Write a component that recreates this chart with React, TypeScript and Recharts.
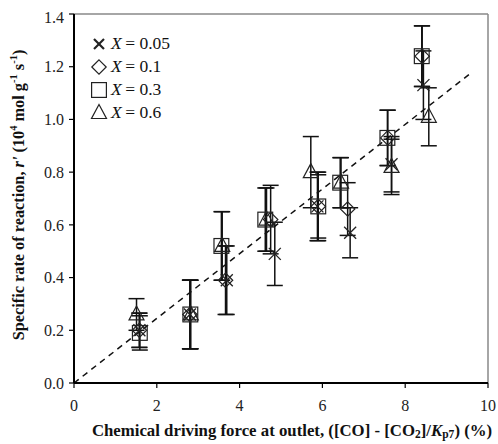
import React from 'react';
import { ScatterChart, Scatter, XAxis, YAxis, ErrorBar, ReferenceLine } from 'recharts';

// ---- data ----
const xTicks = [0, 2, 4, 6, 8, 10];
const yTicks = [0, 0.2, 0.4, 0.6, 0.8, 1.0, 1.2, 1.4];

const seriesNames = ['X = 0.05', 'X = 0.1', 'X = 0.3', 'X = 0.6'];

const xs005 = [1.58, 2.80, 3.69, 4.85, 5.88, 6.67, 7.67, 8.44];
const ys005 = [0.20, 0.26, 0.39, 0.49, 0.67, 0.57, 0.83, 1.13];
const err005 = [0.065, 0.13, 0.13, 0.12, 0.13, 0.095, 0.105, 0.13];

const xs01 = [1.58, 2.80, 3.66, 4.75, 5.90, 6.61, 7.58, 8.41];
const ys01 = [0.20, 0.26, 0.39, 0.62, 0.67, 0.66, 0.93, 1.24];
const err01 = [0.065, 0.13, 0.13, 0.13, 0.12, 0.10, 0.105, 0.115];

const xs03 = [1.59, 2.81, 3.56, 4.62, 5.90, 6.43, 7.57, 8.40];
const ys03 = [0.19, 0.26, 0.52, 0.62, 0.67, 0.76, 0.93, 1.24];
const err03 = [0.065, 0.13, 0.13, 0.12, 0.13, 0.095, 0.105, 0.115];

const xs06 = [1.51, 2.82, 3.58, 4.65, 5.72, 6.45, 7.67, 8.57];
const ys06 = [0.26, 0.26, 0.52, 0.62, 0.80, 0.76, 0.82, 1.01];
const err06 = [0.06, 0.13, 0.13, 0.12, 0.135, 0.095, 0.105, 0.11];

const trendX = [0, 9.58];
const trendY = [0, 1.175];

const mk = (xs: number[], ys: number[], es: number[]) =>
  xs.map((x, i) => ({ x, y: ys[i], e: es[i] }));

const d005 = mk(xs005, ys005, err005);
const d01 = mk(xs01, ys01, err01);
const d03 = mk(xs03, ys03, err03);
const d06 = mk(xs06, ys06, err06);

// ---- marker shapes ----
const MK = '#222';
const Cross = ({ cx, cy, sw = 1.3, r = 6 }: any) => (
  <g stroke={MK} strokeWidth={sw}>
    <line x1={cx - r} y1={cy - r} x2={cx + r} y2={cy + r} />
    <line x1={cx - r} y1={cy + r} x2={cx + r} y2={cy - r} />
  </g>
);
const Diamond = ({ cx, cy }: any) => {
  const r = 7.2;
  return (
    <polygon
      points={`${cx},${cy - r} ${cx + r},${cy} ${cx},${cy + r} ${cx - r},${cy}`}
      fill="none"
      stroke={MK}
      strokeWidth={1.2}
    />
  );
};
const Square = ({ cx, cy }: any) => {
  const r = 7.4;
  return <rect x={cx - r} y={cy - r} width={2 * r} height={2 * r} fill="none" stroke={MK} strokeWidth={1.2} />;
};
const Triangle = ({ cx, cy }: any) => (
  <polygon
    points={`${cx},${cy - 8.5} ${cx + 7.5},${cy + 5.5} ${cx - 7.5},${cy + 5.5}`}
    fill="none"
    stroke={MK}
    strokeWidth={1.2}
  />
);

const shapes = [Cross, Diamond, Square, Triangle];
const FONT = '"Liberation Serif", "Times New Roman", serif';

const ErrBar = (
  <ErrorBar dataKey="e" direction="y" width={8} stroke="#111" strokeWidth={1.5} />
);

const YTitle = () => (
  <text
    x={10}
    y={187}
    transform="rotate(-90 10 187)"
    textAnchor="middle"
    dominantBaseline="central"
    fontWeight="bold"
    fontSize={16.3}
    fontFamily={FONT}
    fill="#111"
  >
    Specific rate of reaction, <tspan fontStyle="italic">r'</tspan> (10
    <tspan dy={-5} fontSize={10.5}>4</tspan>
    <tspan dy={5}> mol g</tspan>
    <tspan dy={-5} fontSize={10.5}>-1</tspan>
    <tspan dy={5}> s</tspan>
    <tspan dy={-5} fontSize={10.5}>-1</tspan>
    <tspan dy={5}>)</tspan>
  </text>
);

const XTitle = () => (
  <text
    x={284}
    y={422}
    textAnchor="middle"
    dominantBaseline="central"
    fontWeight="bold"
    fontSize={16.8}
    fontFamily={FONT}
    fill="#111"
  >
    Chemical driving force at outlet, ([CO] - [CO
    <tspan dy={4} fontSize={11.5}>2</tspan>
    <tspan dy={-4}>]/</tspan>
    <tspan fontStyle="italic">K</tspan>
    <tspan dy={4} fontSize={11.5}>p7</tspan>
    <tspan dy={-4}>) (%)</tspan>
  </text>
);

export default function App() {
  return (
    <div style={{ position: 'relative', width: 498, height: 444, overflow: 'visible' }}>
      <style>{'html,body{margin:0;padding:0;overflow:hidden}'}</style>
      <div style={{ position: 'absolute', left: 8, top: 8 }}>
        <ScatterChart
          width={490}
          height={436}
          margin={{ top: 6, right: 10, bottom: 0, left: 0 }}
          style={{ fontFamily: FONT }}
        >
          <XAxis
            type="number"
            dataKey="x"
            domain={[0, 10]}
            ticks={xTicks}
            height={61}
            tickSize={5}
            tickMargin={12}
            axisLine={{ stroke: '#000', strokeWidth: 2 }}
            tickLine={{ stroke: '#000', strokeWidth: 1.2 }}
            tick={{ fill: '#222', fontSize: 16, fontFamily: FONT }}
            label={{ content: () => <XTitle /> }}
          />
          <YAxis
            type="number"
            dataKey="y"
            domain={[0, 1.4]}
            ticks={yTicks}
            width={66}
            tickSize={5}
            tickMargin={5}
            tickFormatter={(v: number) => v.toFixed(1)}
            axisLine={{ stroke: '#000', strokeWidth: 2 }}
            tickLine={{ stroke: '#000', strokeWidth: 1.2 }}
            tick={{ fill: '#222', fontSize: 16, fontFamily: FONT }}
            label={{ content: () => <YTitle /> }}
          />
          <ReferenceLine y={1.4} stroke="#888" strokeWidth={1.5} />
          <ReferenceLine x={10} stroke="#888" strokeWidth={1.5} />
          <ReferenceLine
            segment={[
              { x: trendX[0], y: trendY[0] },
              { x: trendX[1], y: trendY[1] },
            ]}
            stroke="#111"
            strokeWidth={1.5}
            strokeDasharray="6 5"
          />
          <Scatter data={d005} name={seriesNames[0]} isAnimationActive={false} shape={(p: any) => <Cross {...p} />}>
            {ErrBar}
          </Scatter>
          <Scatter data={d01} name={seriesNames[1]} isAnimationActive={false} shape={(p: any) => <Diamond {...p} />}>
            {ErrBar}
          </Scatter>
          <Scatter data={d03} name={seriesNames[2]} isAnimationActive={false} shape={(p: any) => <Square {...p} />}>
            {ErrBar}
          </Scatter>
          <Scatter data={d06} name={seriesNames[3]} isAnimationActive={false} shape={(p: any) => <Triangle {...p} />}>
            {ErrBar}
          </Scatter>
        </ScatterChart>
        <div style={{ position: 'absolute', left: 81, top: 24, fontFamily: FONT, fontSize: 17.5, color: '#111' }}>
          {seriesNames.map((n, i) => {
            const S = shapes[i];
            const [v, val] = n.split(' = ');
            return (
              <div key={n} style={{ display: 'flex', alignItems: 'center', height: 23 }}>
                <svg width={20} height={20} style={{ marginRight: 2 }}>
                  {i === 0 ? <Cross cx={10} cy={10} sw={2.2} r={5} /> : <S cx={10} cy={10} />}
                </svg>
                <span>
                  <i>{v}</i>{'\u2009= '}{val}
                </span>
              </div>
            );
          })}
        </div>
      </div>
    </div>
  );
}
